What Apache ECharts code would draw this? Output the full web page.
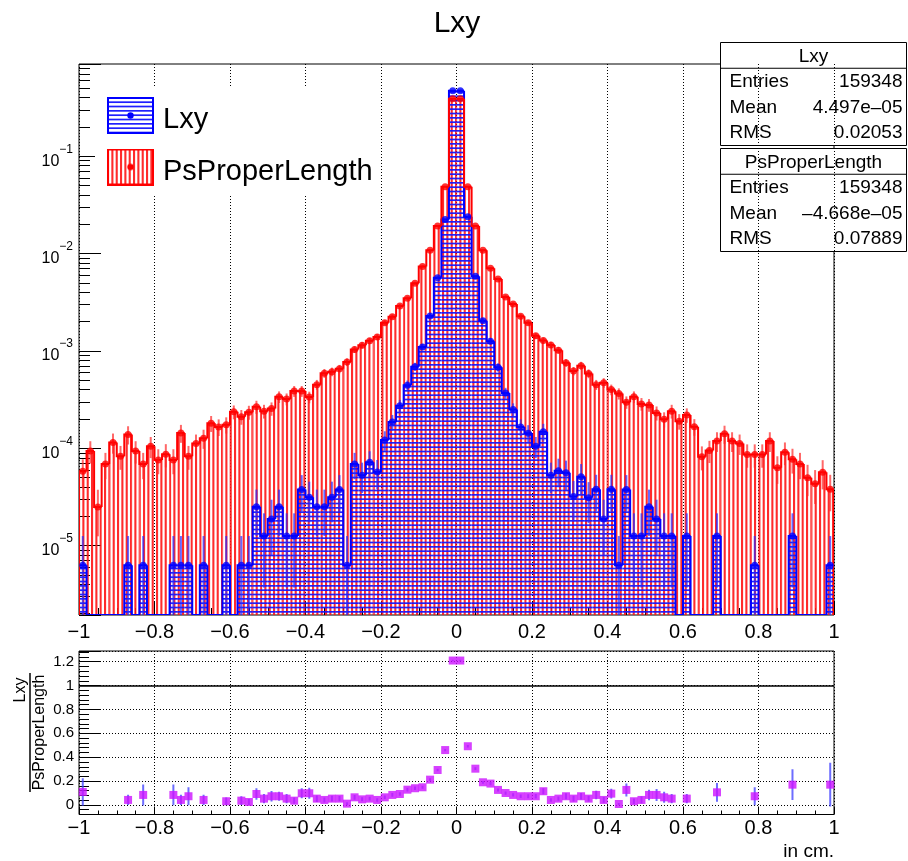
<!DOCTYPE html>
<html>
<head>
<meta charset="utf-8">
<script src="https://cdn.jsdelivr.net/npm/echarts@6/dist/echarts.min.js"></script>
<style>
  html, body { margin: 0; padding: 0; background: #fff; }
  #chart { width: 908px; height: 861px; }
</style>
</head>
<body>
<div id="chart"></div>
<script>
// ---- histogram binning ----
const BIN_LO = -1;
const BIN_W = 0.02;
const ENTRIES = 159348;

// ---- normalised bin contents, 100 bins from -1 to 1 ----
const psVals = [
  5.8e-5, 9.4e-5, 2.5e-5, 6.9e-5, 1.15e-4, 8.3e-5, 1.39e-4, 9.4e-5, 6.9e-5, 1.05e-4,
  7.6e-5, 8.7e-5, 7.6e-5, 1.44e-4, 8.3e-5, 1.12e-4, 1.27e-4, 1.81e-4, 1.66e-4, 1.75e-4,
  2.37e-4, 2.11e-4, 2.35e-4, 2.67e-4, 2.41e-4, 2.56e-4, 3.38e-4, 3.21e-4, 3.87e-4, 3.87e-4,
  3.36e-4, 4.51e-4, 5.91e-4, 6.12e-4, 6.55e-4, 7.69e-4, 1.035e-3, 1.145e-3, 1.27e-3, 1.39e-3,
  1.95e-3, 2.25e-3, 2.9e-3, 3.47e-3, 4.95e-3, 7.38e-3, 1.08e-2, 1.92e-2, 4.87e-2, 0.389,
  0.389, 4.87e-2, 1.92e-2, 1.08e-2, 7.06e-3, 5.48e-3, 3.59e-3, 3.03e-3, 2.28e-3, 1.95e-3,
  1.43e-3, 1.28e-3, 1.155e-3, 1.02e-3, 7.56e-4, 6.22e-4, 7.07e-4, 5.86e-4, 4.51e-4, 4.71e-4,
  4.01e-4, 3.65e-4, 2.98e-4, 3.38e-4, 2.86e-4, 2.79e-4, 2.31e-4, 1.99e-4, 2.41e-4, 1.9e-4,
  2.2e-4, 1.67e-4, 8.2e-5, 9.5e-5, 1.19e-4, 1.41e-4, 1.19e-4, 1.12e-4, 8.65e-5, 8.65e-5,
  8.65e-5, 1.19e-4, 6.3e-5, 9.1e-5, 7.7e-5, 6.9e-5, 5.0e-5, 4.33e-5, 5.67e-5, 3.8e-5
];

const lxyVals = [
  6.28e-6, 0, 0, 0, 0, 0, 6.28e-6, 0, 6.28e-6, 0,
  0, 0, 6.28e-6, 6.28e-6, 6.28e-6, 0, 6.28e-6, 0, 0, 6.28e-6,
  0, 6.28e-6, 6.28e-6, 2.51e-5, 1.26e-5, 1.88e-5, 2.51e-5, 1.26e-5, 1.26e-5, 3.77e-5,
  3.14e-5, 2.51e-5, 2.51e-5, 3.14e-5, 3.77e-5, 6.28e-6, 6.9e-5, 5.3e-5, 7.2e-5, 5.7e-5,
  1.22e-4, 1.86e-4, 2.73e-4, 4.44e-4, 6.9e-4, 1.1e-3, 2.29e-3, 5.65e-3, 2.24e-2, 0.472,
  0.472, 2.39e-2, 5.85e-3, 2.05e-3, 1.26e-3, 6.8e-4, 3.7e-4, 2.5e-4, 1.66e-4, 1.43e-4,
  1.05e-4, 1.48e-4, 5.3e-5, 5.9e-5, 5.6e-5, 3.2e-5, 5.1e-5, 3.1e-5, 3.8e-5, 1.88e-5,
  3.8e-5, 6.28e-6, 3.77e-5, 1.26e-5, 1.26e-5, 2.51e-5, 1.88e-5, 1.26e-5, 1.26e-5, 0,
  1.26e-5, 0, 0, 0, 1.26e-5, 0, 0, 0, 0, 6.28e-6,
  0, 0, 0, 0, 1.26e-5, 0, 0, 0, 0, 6.28e-6
];

// Lxy / PsProperLength per bin (null where Lxy is empty)
const ratioVals = [
  0.109, null, null, null, null, null, 0.042, null, 0.084, null,
  null, null, 0.084, 0.042, 0.073, null, 0.042, null, null, 0.031,
  null, 0.036, 0.025, 0.092, 0.053, 0.073, 0.073, 0.053, 0.036, 0.098,
  0.098, 0.053, 0.042, 0.053, 0.053, 0.011, 0.064, 0.047, 0.053, 0.042,
  0.064, 0.084, 0.092, 0.128, 0.140, 0.148, 0.212, 0.293, 0.460, 1.21,
  1.21, 0.492, 0.304, 0.190, 0.179, 0.126, 0.100, 0.084, 0.073, 0.073,
  0.073, 0.115, 0.042, 0.053, 0.073, 0.053, 0.073, 0.053, 0.084, 0.042,
  0.095, 0.008, 0.126, 0.031, 0.042, 0.084, 0.084, 0.064, 0.053, null,
  0.053, null, null, null, 0.106, null, null, null, null, 0.073,
  null, null, null, null, 0.170, null, null, null, null, 0.170
];

// ---- tick labels ----
const xTickLabels = ['\u22121', '\u22120.8', '\u22120.6', '\u22120.4', '\u22120.2', '0', '0.2', '0.4', '0.6', '0.8', '1'];
const decadeExponents = { '-5': '\u22125', '-4': '\u22124', '-3': '\u22123', '-2': '\u22122', '-1': '\u22121' };
const ratioTickLabels = ['0', '0.2', '0.4', '0.6', '0.8', '1', '1.2'];

// ---- statistics boxes ----
const statsLxy = [['Entries', '159348'], ['Mean', '4.497e\u201305'], ['RMS', '0.02053']];
const statsPs = [['Entries', '159348'], ['Mean', '\u20134.668e\u201305'], ['RMS', '0.07889']];

// axis ranges
const Y_MIN = 1.94e-6, Y_MAX = 0.887;
const R_MIN = -0.08, R_MAX = 1.29;

const FONT = 'Liberation Sans, Arial, Helvetica, sans-serif';
const RED = '#ff0000', BLUE = '#0000ff';

// ---- hatch patterns ----
function hatchCanvas(color, vertical, lw) {
  const size = 13, n = 3;
  const c = document.createElement('canvas');
  c.width = size; c.height = size;
  const g = c.getContext('2d');
  g.fillStyle = color;
  for (let k = 0; k < n; k++) {
    const p = k * size / n;
    if (vertical) g.fillRect(p, 0, lw, size); else g.fillRect(0, p, size, lw);
  }
  return c;
}
const redHatch = hatchCanvas('rgba(255,20,20,0.9)', true, 2.1);
const blueHatch = hatchCanvas('rgba(20,20,255,0.95)', false, 1.7);

function legendIcon(hatch, color) {
  const w = 47, h = 37;
  const c = document.createElement('canvas');
  c.width = w; c.height = h;
  const g = c.getContext('2d');
  g.fillStyle = '#fff'; g.fillRect(0, 0, w, h);
  g.fillStyle = g.createPattern(hatch, 'repeat'); g.fillRect(1, 1, w - 2, h - 2);
  g.strokeStyle = color; g.lineWidth = 2; g.strokeRect(1, 1, w - 2, h - 2);
  g.fillStyle = color; g.beginPath(); g.arc(w / 2, h / 2, 3.2, 0, Math.PI * 2); g.fill();
  return 'image://' + c.toDataURL();
}

// ---- derived series data ----
const lo = i => BIN_LO + i * BIN_W;
const hi = i => BIN_LO + (i + 1) * BIN_W;
const mid = i => BIN_LO + (i + 0.5) * BIN_W;

function barData(vals) {
  return vals.map((v, i) => [lo(i), hi(i), v]).filter(d => d[2] > 0);
}
function stepData(vals) {
  return vals.map((v, i) => [
    lo(i), hi(i),
    v > 0 ? v : Y_MIN,
    (i > 0 && vals[i - 1] > 0) ? vals[i - 1] : Y_MIN,
    i === vals.length - 1 ? 1 : 0
  ]);
}
function errData(vals) {
  return vals.map((v, i) => {
    if (!(v > 0)) return null;
    const e = Math.sqrt(v * ENTRIES) / ENTRIES;
    return [mid(i), Math.max(v - e, Y_MIN), v + e];
  }).filter(Boolean);
}
function pointData(vals) {
  return vals.map((v, i) => [mid(i), v]).filter(d => d[1] > 0);
}
const ratioPoints = ratioVals.map((r, i) => [mid(i), r]).filter(d => d[1] !== null);
const ratioErrs = ratioVals.map((r, i) => {
  if (r === null) return null;
  const nL = lxyVals[i] * ENTRIES, nP = psVals[i] * ENTRIES;
  const e = r * Math.sqrt(1 / nL + 1 / nP);
  return [mid(i), r - e, r + e];
}).filter(Boolean);

// ---- render helpers ----
function barItem(pattern) {
  return function (params, api) {
    const a = api.coord([api.value(0), api.value(2)]);
    const b = api.coord([api.value(1), Y_MIN]);
    return {
      type: 'rect',
      shape: { x: a[0], y: a[1], width: b[0] - a[0], height: b[1] - a[1] },
      style: { fill: { image: pattern, repeat: 'repeat' } }
    };
  };
}
function stepItem(color) {
  return function (params, api) {
    const x0 = api.value(0), x1 = api.value(1), v = api.value(2), vp = api.value(3);
    const pts = [api.coord([x0, vp]), api.coord([x0, v]), api.coord([x1, v])];
    if (api.value(4)) pts.push(api.coord([x1, Y_MIN]));
    return { type: 'polyline', shape: { points: pts }, style: { stroke: color, lineWidth: 2, fill: null } };
  };
}
function errItem(color, width) {
  return function (params, api) {
    const a = api.coord([api.value(0), api.value(1)]);
    const b = api.coord([api.value(0), api.value(2)]);
    return { type: 'line', shape: { x1: a[0], y1: a[1], x2: b[0], y2: b[1] }, style: { stroke: color, lineWidth: width } };
  };
}

// ---- statistics box graphics ----
function statsBox(top, title, rows) {
  const left = 720.5, width = 186, rowH = 25.75;
  const els = [
    { type: 'rect', shape: { x: left, y: top, width: width, height: rowH * 4 },
      style: { fill: '#fff', stroke: '#000', lineWidth: 1 } },
    { type: 'line', shape: { x1: left, y1: top + rowH, x2: left + width, y2: top + rowH },
      style: { stroke: '#000', lineWidth: 1 } },
    { type: 'text', x: left + width / 2, y: top + rowH / 2 + 1,
      style: { text: title, font: '19px ' + FONT, fill: '#000', align: 'center', verticalAlign: 'middle' } }
  ];
  rows.forEach((r, k) => {
    const y = top + rowH * (k + 1.5) + 0.5;
    els.push({ type: 'text', x: left + 9, y: y,
      style: { text: r[0], font: '19px ' + FONT, fill: '#000', align: 'left', verticalAlign: 'middle' } });
    els.push({ type: 'text', x: left + width - 4, y: y,
      style: { text: r[1], font: '19px ' + FONT, fill: '#000', align: 'right', verticalAlign: 'middle' } });
  });
  return { type: 'group', z: 100, children: els };
}

const gridLine = { show: true, lineStyle: { color: '#000', type: [1, 2], width: 1 } };
const xLabelFmt = v => {
  const k = Math.round((v - BIN_LO) / 0.2);
  return Math.abs(BIN_LO + k * 0.2 - v) < 1e-6 ? xTickLabels[k] : '';
};

const chart = echarts.init(document.getElementById('chart'), null, { renderer: 'canvas' });

const option = {
  animation: false,
  backgroundColor: '#fff',
  textStyle: { fontFamily: FONT },
  grid: [
    { left: 79, top: 64, width: 755, height: 551, show: true, borderColor: '#000', borderWidth: 1, backgroundColor: 'transparent' },
    { left: 79, top: 651, width: 755, height: 163.5, show: true, borderColor: '#000', borderWidth: 1, backgroundColor: 'transparent' }
  ],
  xAxis: [
    {
      type: 'value', gridIndex: 0, min: -1, max: 1, interval: 0.2, position: 'bottom',
      axisLine: { show: false, onZero: false },
      axisTick: { inside: true, length: 14, lineStyle: { color: '#000' } },
      minorTick: { show: true, splitNumber: 4, length: 7, lineStyle: { color: '#000' } },
      axisLabel: { fontSize: 20, color: '#000', margin: 7, formatter: xLabelFmt },
      splitLine: gridLine
    },
    {
      type: 'value', gridIndex: 1, min: -1, max: 1, interval: 0.2, position: 'bottom',
      axisLine: { show: false, onZero: false },
      axisTick: { inside: true, length: 8, lineStyle: { color: '#000' } },
      minorTick: { show: true, splitNumber: 4, length: 4, lineStyle: { color: '#000' } },
      axisLabel: { fontSize: 20, color: '#000', margin: 4, formatter: xLabelFmt },
      splitLine: gridLine
    }
  ],
  yAxis: [
    {
      type: 'log', gridIndex: 0, logBase: 10, min: Y_MIN, max: Y_MAX, position: 'left',
      axisLine: { show: false, onZero: false },
      axisTick: { inside: true, length: 22, lineStyle: { color: '#000' } },
      minorTick: { show: true, splitNumber: 9, length: 11, lineStyle: { color: '#000' } },
      splitLine: { show: false },
      axisLabel: {
        margin: 6, showMinLabel: false, showMaxLabel: false,
        formatter: v => {
          const e = Math.log10(v), k = Math.round(e);
          if (Math.abs(e - k) > 1e-6 || !decadeExponents[k]) return '';
          return '{b|10}{s|' + decadeExponents[k] + '}';
        },
        rich: {
          b: { fontSize: 16, color: '#000', fontFamily: FONT, lineHeight: 26, verticalAlign: 'bottom' },
          s: { fontSize: 12, color: '#000', fontFamily: FONT, lineHeight: 13, verticalAlign: 'top' }
        }
      }
    },
    {
      type: 'value', gridIndex: 1, min: R_MIN, max: R_MAX, splitNumber: 7, position: 'left',
      axisLine: { show: false, onZero: false },
      axisTick: { inside: true, length: 21, lineStyle: { color: '#000' } },
      minorTick: { show: true, splitNumber: 5, length: 10, lineStyle: { color: '#000' } },
      splitLine: gridLine,
      axisLabel: {
        fontSize: 15, color: '#000', margin: 5, showMinLabel: false, showMaxLabel: false,
        formatter: v => {
          const k = Math.round(v / 0.2);
          return (Math.abs(k * 0.2 - v) < 1e-6 && ratioTickLabels[k] !== undefined) ? ratioTickLabels[k] : '';
        }
      }
    }
  ],
  legend: {
    orient: 'vertical', left: 95, top: 87,
    padding: [10, 2, 8, 12], itemGap: 14,
    itemWidth: 47, itemHeight: 37,
    backgroundColor: '#fff',
    selectedMode: false,
    formatter: name => '{t|' + name + '}',
    textStyle: {
      fontSize: 29, color: '#000', fontFamily: FONT,
      rich: { t: { fontSize: 29, color: '#000', fontFamily: FONT, padding: [9, 0, 0, 4] } }
    },
    data: [
      { name: 'Lxy', icon: legendIcon(blueHatch, BLUE) },
      { name: 'PsProperLength', icon: legendIcon(redHatch, RED) }
    ]
  },
  series: [
    { name: 'PsProperLength', type: 'custom', xAxisIndex: 0, yAxisIndex: 0, clip: true,
      renderItem: barItem(redHatch), encode: { x: [0, 1], y: 2 }, data: barData(psVals), z: 2 },
    { name: 'Lxy', type: 'custom', xAxisIndex: 0, yAxisIndex: 0, clip: true,
      renderItem: barItem(blueHatch), encode: { x: [0, 1], y: 2 }, data: barData(lxyVals), z: 3 },
    { name: 'Lxy outline', type: 'custom', xAxisIndex: 0, yAxisIndex: 0, clip: true,
      renderItem: stepItem(BLUE), encode: { x: [0, 1], y: [2, 3] }, data: stepData(lxyVals), z: 4 },
    { name: 'PsProperLength outline', type: 'custom', xAxisIndex: 0, yAxisIndex: 0, clip: true,
      renderItem: stepItem(RED), encode: { x: [0, 1], y: [2, 3] }, data: stepData(psVals), z: 5 },
    { name: 'PsProperLength errors', type: 'custom', xAxisIndex: 0, yAxisIndex: 0, clip: true,
      renderItem: errItem('rgba(255,40,40,0.7)', 2), encode: { x: 0, y: [1, 2] }, data: errData(psVals), z: 6 },
    { name: 'PsProperLength points', type: 'scatter', xAxisIndex: 0, yAxisIndex: 0,
      symbol: 'circle', symbolSize: 7, itemStyle: { color: RED }, data: pointData(psVals), z: 7 },
    { name: 'Lxy errors', type: 'custom', xAxisIndex: 0, yAxisIndex: 0, clip: true,
      renderItem: errItem('rgba(40,40,255,0.7)', 2), encode: { x: 0, y: [1, 2] }, data: errData(lxyVals), z: 8 },
    { name: 'Lxy points', type: 'scatter', xAxisIndex: 0, yAxisIndex: 0,
      symbol: 'circle', symbolSize: 7, itemStyle: { color: BLUE }, data: pointData(lxyVals), z: 9 },
    { name: 'ratio errors', type: 'custom', xAxisIndex: 1, yAxisIndex: 1, clip: true,
      renderItem: errItem('rgba(60,60,255,0.75)', 2), encode: { x: 0, y: [1, 2] }, data: ratioErrs, z: 6 },
    { name: 'ratio', type: 'scatter', xAxisIndex: 1, yAxisIndex: 1,
      symbol: 'rect', symbolSize: 8, itemStyle: { color: '#cc11ff' }, data: ratioPoints, z: 7,
      markLine: {
        silent: true, symbol: 'none', label: { show: false },
        lineStyle: { color: '#000', type: 'solid', width: 1.5 },
        data: [{ yAxis: 1 }]
      }
    }
  ],
  graphic: [
    { type: 'text', x: 457, y: 24, z: 100,
      style: { text: 'Lxy', font: '30px ' + FONT, fill: '#000', align: 'center', verticalAlign: 'middle' } },
    statsBox(42.5, 'Lxy', statsLxy),
    statsBox(148.5, 'PsProperLength', statsPs),
    // x-axis title under the ratio pad
    { type: 'text', x: 834, y: 852, z: 100,
      style: { text: 'in cm.', font: '19px ' + FONT, fill: '#000', align: 'right', verticalAlign: 'middle' } },
    // y-axis title of the ratio pad, written as a fraction
    { type: 'text', x: 21, y: 690, rotation: Math.PI / 2, z: 100,
      style: { text: 'Lxy', font: '16px ' + FONT, fill: '#000', align: 'center', verticalAlign: 'middle' } },
    { type: 'line', z: 100, shape: { x1: 30, y1: 673, x2: 30, y2: 792 }, style: { stroke: '#000', lineWidth: 1.5 } },
    { type: 'text', x: 40, y: 732.5, rotation: Math.PI / 2, z: 100,
      style: { text: 'PsProperLength', font: '16px ' + FONT, fill: '#000', align: 'center', verticalAlign: 'middle' } }
  ]
};

chart.setOption(option);
</script>
</body>
</html>
